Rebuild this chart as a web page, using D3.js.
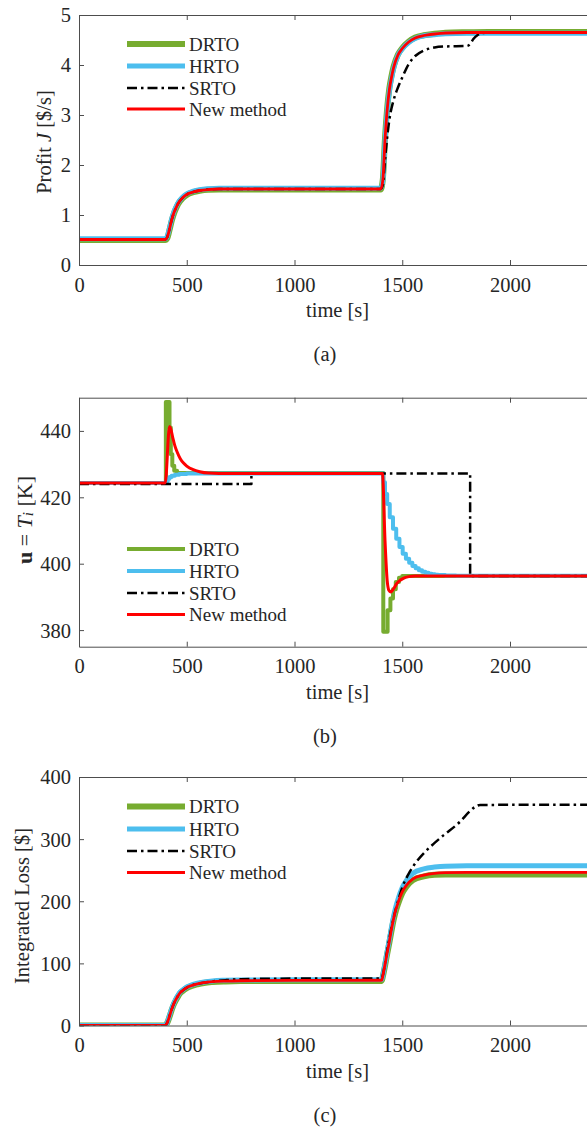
<!DOCTYPE html>
<html><head><meta charset="utf-8">
<script src="https://cdn.jsdelivr.net/npm/d3@7"></script>
<style>
body{margin:0;background:#fff}
svg{display:block}
text{font-family:"Liberation Serif","Times New Roman",serif;fill:#262626}
</style>
</head><body><svg id="fig" width="587" height="1132"></svg>
<script>
// ---------- shared ----------
const seriesNames = ["DRTO", "HRTO", "SRTO", "New method"];
const seriesColors = ["#77AC30", "#4DBEEE", "#000000", "#FF0000"];
const xTicks = [0, 500, 1000, 1500, 2000];
const xDomain = [0, 2400];

// ---------- panel (a): Profit J [$/s] ----------
const yTicksA = [0, 1, 2, 3, 4, 5];
const timeA = [0,400,410,420,430,440,450,460,480,500,530,560,600,650,700,800,1400,1410,1420,1430,1440,1450,1460,1480,1500,1530,1560,1600,1650,1700,1800,1900,2400];
const drtoA = [0.5,0.5,0.54,0.7,0.88,1.02,1.13,1.22,1.33,1.4,1.455,1.485,1.505,1.51,1.51,1.51,1.51,1.72,2.54,3.13,3.53,3.78,3.97,4.21,4.34,4.47,4.55,4.595,4.625,4.645,4.655,4.66,4.66];
const hrtoA = [0.525,0.525,0.58,0.74,0.92,1.06,1.16,1.245,1.355,1.425,1.475,1.505,1.525,1.535,1.535,1.535,1.535,1.68,2.46,3.07,3.47,3.72,3.93,4.19,4.32,4.45,4.53,4.585,4.605,4.625,4.635,4.635,4.635];
const newA  = [0.51,0.51,0.56,0.72,0.9,1.04,1.14,1.23,1.34,1.41,1.46,1.49,1.51,1.52,1.52,1.52,1.52,1.7,2.5,3.1,3.5,3.75,3.95,4.2,4.33,4.46,4.54,4.59,4.62,4.64,4.65,4.65,4.65];
const srtoTimeA = [0,400,410,420,430,440,450,460,480,500,530,560,600,650,700,800,1400,1410,1420,1430,1440,1460,1480,1500,1530,1560,1600,1650,1700,1800,1815,1830,1850,1870,1900,2400];
const srtoA = [0.51,0.51,0.56,0.72,0.9,1.04,1.14,1.23,1.34,1.41,1.46,1.49,1.51,1.52,1.52,1.52,1.52,1.6,2.1,2.55,2.9,3.3,3.55,3.75,4.02,4.18,4.29,4.35,4.37,4.38,4.42,4.52,4.6,4.64,4.65,4.65];

// ---------- panel (b): u = T_i [K] ----------
const yTicksB = [380, 400, 420, 440];
const drtoTimeB = [0,403,420,426,433,442,455,1412,1432,1445,1457,1470,1485,1500,2400];
const drtoB = [424.3,448.7,441,433,429.5,428,427.3,379.5,386,389.5,392.3,394.5,395.8,396.3,396.3];
const hrtoTimeB = [0,405,412,420,430,445,465,500,1412,1420,1430,1442,1457,1472,1487,1502,1517,1532,1547,1562,1577,1592,1607,1622,1637,1652,1667,1700,1750,2400];
const hrtoB = [424.3,424.8,425.6,426.1,426.5,426.8,427.0,427.2,424.5,421,418,414,410.5,407.5,405,403,401.5,400.3,399.3,398.6,398,397.6,397.3,397,396.8,396.7,396.6,396.45,396.35,396.3];
const srtoTimeB = [0,800,1815,2400];
const srtoB = [424,427.2,396.3,396.3];
const newTimeB = [0,400,420,425,435,445,455,470,485,500,530,560,600,650,1400,1408,1420,1430,1438,1446,1460,1474,1490,1505,1530,1560,2400];
const newB = [424.3,424.3,441.3,440.8,438,435.5,433.7,431.6,430.3,429.4,428.3,427.7,427.3,427.2,427.2,427.2,407,395,392,391.5,392.5,394,395,395.6,396.1,396.3,396.3];

// ---------- panel (c): Integrated Loss [$] ----------
const yTicksC = [0, 100, 200, 300, 400];
const timeC = [0,400,410,420,430,440,450,460,470,480,500,520,550,580,620,680,750,1000,1400,1405,1410,1420,1430,1440,1450,1460,1470,1480,1500,1520,1550,1600,1650,1700,1800,2400];
const drtoC = [0,0,4.5,14,25,34,41,47,52,55.3,60.3,63.3,66.3,68.5,70,71,71.5,71.7,71.8,72,79,96,115,133,152,170,184,195,213,224,234,240,242.5,243,243,243];
const hrtoC = [0,0,5.5,16,27,36,43,49,54,57,62,65,68,70,71.8,72.8,73.3,73.7,73.9,74,81,99,119,138,158,176,191,203,222,234,245,252,255,256.5,257,257];
const newC  = [0,0,5,15,26,35,42,48,53,56,61,64,67,69,70.5,71.5,72,72.5,72.8,73,80,98,117,135,155,172,186,197,215,226,236,242,245,246,246.5,246.5];
const srtoTimeC = [0,400,410,420,430,440,450,460,470,480,500,520,550,580,620,680,750,1000,1400,1405,1410,1420,1440,1460,1480,1500,1536,1567,1613,1644,1691,1768,1814,1838,1861,2400];
const srtoC = [0,0,5,15,26,35,42,48,53,56,61,64,67,69,71,73,74.5,75.5,75.8,76,81,100,140,173,200,222,248,264,282,292,306,328,345,352,355,355.5];

const zip = (t, v) => t.map((d, i) => [d, v[i]]);

const panels = [
  { id: "a", top: 15, bottom: 265, domain: [0, 5], ticks: yTicksA, caption: "(a)",
    legendRows: [44, 66, 88, 109], widths: [6, 5, 2.5, 2.8],
    series: [
      { data: zip(timeA, drtoA), curve: d3.curveMonotoneX },
      { data: zip(timeA, hrtoA), curve: d3.curveMonotoneX },
      { data: zip(srtoTimeA, srtoA), curve: d3.curveMonotoneX },
      { data: zip(timeA, newA), curve: d3.curveMonotoneX }],
    ylab: "a", ylx: 44, yly: 142 },
  { id: "b", top: 397.7, bottom: 646.7, domain: [375, 450], ticks: yTicksB, caption: "(b)",
    legendRows: [549, 571, 593, 614.5], widths: [4, 4, 2.5, 3],
    series: [
      { data: zip(drtoTimeB, drtoB), curve: d3.curveStepAfter },
      { data: zip(hrtoTimeB, hrtoB), curve: d3.curveStepAfter },
      { data: zip(srtoTimeB, srtoB), curve: d3.curveStepAfter },
      { data: zip(newTimeB, newB), curve: d3.curveMonotoneX }],
    ylab: "b", ylx: 24, yly: 520 },
  { id: "c", top: 777, bottom: 1025.5, domain: [0, 400], ticks: yTicksC, caption: "(c)",
    legendRows: [806.5, 829, 851, 872.5], widths: [6, 5, 2.5, 2.8],
    series: [
      { data: zip(timeC, drtoC), curve: d3.curveMonotoneX },
      { data: zip(timeC, hrtoC), curve: d3.curveMonotoneX },
      { data: zip(srtoTimeC, srtoC), curve: d3.curveMonotoneX },
      { data: zip(timeC, newC), curve: d3.curveMonotoneX }],
    ylab: "c", ylx: 22, yly: 906 }
];

const svg = d3.select("#fig");
const x0 = 79, pxPerSec = 0.2155;
const x = d3.scaleLinear().domain(xDomain).range([x0, x0 + (xDomain[1] - xDomain[0]) * pxPerSec]);
const axisColor = "#4d4d4d";
const FS = 20.5, LFS = 19;
const dash = "10,4,2.5,4";

panels.forEach(p => {
  const y = d3.scaleLinear().domain(p.domain).range([p.bottom, p.top]);
  const g = svg.append("g");

  const clipId = "clip-" + p.id;
  g.append("clipPath").attr("id", clipId).append("rect")
    .attr("x", x.range()[0]).attr("y", p.top)
    .attr("width", x.range()[1] - x.range()[0]).attr("height", p.bottom - p.top);

  const plot = g.append("g").attr("clip-path", `url(#${clipId})`);
  p.series.forEach((s, i) => {
    const line = d3.line().x(d => x(d[0])).y(d => y(d[1])).curve(s.curve);
    plot.append("path").attr("d", line(s.data))
      .attr("fill", "none").attr("stroke", seriesColors[i])
      .attr("stroke-width", p.widths[i])
      .attr("stroke-linejoin", "round")
      .attr("stroke-dasharray", i === 2 ? dash : null);
  });

  const styleAxis = sel => {
    sel.selectAll("path.domain").attr("stroke", axisColor).attr("stroke-width", 1);
    sel.selectAll(".tick line").attr("stroke", axisColor).attr("stroke-width", 1);
    sel.selectAll(".tick text").attr("font-size", FS).attr("font-family", "Liberation Serif, serif").attr("fill", "#262626");
  };
  g.append("g").attr("transform", `translate(0,${p.bottom})`)
    .call(d3.axisBottom(x).tickValues(xTicks).tickSize(-5).tickSizeOuter(0).tickPadding(12).tickFormat(d3.format("d")))
    .call(styleAxis);
  g.append("g").attr("transform", `translate(0,${p.top})`)
    .call(d3.axisTop(x).tickValues(xTicks).tickSize(-5).tickSizeOuter(0).tickFormat(""))
    .call(styleAxis);
  g.append("g").attr("transform", `translate(${x0},0)`)
    .call(d3.axisLeft(y).tickValues(p.ticks).tickSize(-5).tickSizeOuter(0).tickPadding(8).tickFormat(d3.format("d")))
    .call(styleAxis)
    .selectAll(".tick text").attr("dy", "0.34em");
  g.append("g").attr("transform", `translate(${x.range()[1]},0)`)
    .call(d3.axisRight(y).tickValues(p.ticks).tickSize(-5).tickSizeOuter(0).tickFormat(""))
    .call(styleAxis);

  g.append("text").attr("x", x(1200)).attr("y", p.bottom + 45)
    .attr("text-anchor", "middle").attr("dominant-baseline", "central")
    .attr("font-size", FS).text("time [s]");
  g.append("text").attr("x", 325).attr("y", p.bottom + 89)
    .attr("text-anchor", "middle").attr("dominant-baseline", "central")
    .attr("font-size", FS).text(p.caption);

  const yl = g.append("text").attr("transform", `translate(${p.ylx},${p.yly}) rotate(-90)`)
    .attr("text-anchor", "middle").attr("dominant-baseline", "central")
    .attr("font-size", p.ylab === "b" ? 22 : FS);
  if (p.ylab === "a") {
    yl.append("tspan").text("Profit  ");
    yl.append("tspan").attr("font-style", "italic").text("J");
    yl.append("tspan").text(" [$/s]");
  } else if (p.ylab === "b") {
    yl.append("tspan").attr("font-weight", "bold").text("u");
    yl.append("tspan").text(" = ");
    yl.append("tspan").attr("font-style", "italic").text("T");
    yl.append("tspan").attr("font-style", "italic").attr("font-size", 15).attr("dy", 4).text("i");
    yl.append("tspan").attr("dy", -4).text(" [K]");
  } else {
    yl.text("Integrated Loss [$]");
  }

  const lg = g.append("g");
  seriesNames.forEach((name, i) => {
    const ry = p.legendRows[i];
    lg.append("line").attr("x1", 127).attr("x2", 185).attr("y1", ry).attr("y2", ry)
      .attr("stroke", seriesColors[i]).attr("stroke-width", p.widths[i])
      .attr("stroke-dasharray", i === 2 ? dash : null);
    lg.append("text").attr("x", 189).attr("y", ry)
      .attr("dominant-baseline", "central").attr("font-size", LFS).text(name);
  });
});
</script></body></html>
